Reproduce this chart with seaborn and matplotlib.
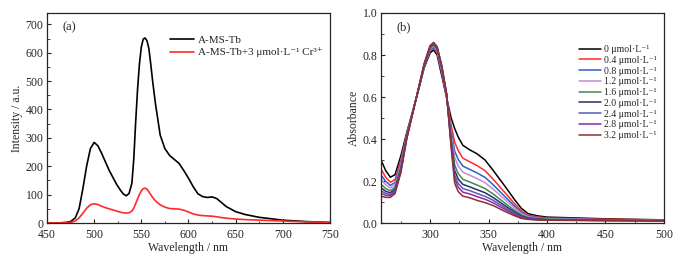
import numpy as np
import pandas as pd
import matplotlib
matplotlib.use('Agg')
import matplotlib.pyplot as plt
import seaborn as sns
from matplotlib.ticker import MultipleLocator, FormatStrFormatter

# ---- panel (a): fluorescence emission ----
wl_a = [450, 460, 470, 475, 480, 484, 488, 492, 496, 500, 504, 508, 512, 516, 520,
        524, 528, 531, 534, 537, 540, 542, 544, 546, 548, 550, 552, 554, 556, 558,
        560, 562, 565, 570, 575, 580, 585, 590, 595, 600, 605, 610, 615, 620, 625,
        630, 635, 640, 650, 660, 675, 700, 725, 750]
tb = [0, 0, 2, 5, 18, 50, 120, 200, 262, 284, 272, 245, 215, 185, 160,
      135, 115, 102, 96, 104, 140, 225, 355, 470, 560, 620, 648, 652, 642, 615,
      560, 500, 420, 310, 262, 238, 224, 210, 185, 158, 128, 103, 93, 90, 92,
      86, 72, 58, 40, 30, 20, 10, 5, 2]
tb_cr = [0, 0, 1, 2, 7, 18, 34, 52, 64, 68, 65, 59, 54, 50, 46,
         42, 38, 36, 35, 36, 42, 52, 68, 85, 100, 113, 121, 123, 119, 110,
         100, 90, 78, 64, 56, 51, 50, 49, 45, 39, 32, 28, 26, 25, 24,
         22, 19, 17, 14, 12, 10, 7, 4, 2]
label_a = ['A-MS-Tb', 'A-MS-Tb+3 μmol·L⁻¹ Cr³⁺']

# ---- panel (b): absorbance titration ----
wl_b = [258, 262, 266, 270, 275, 280, 285, 290, 295, 300, 303, 306, 310, 314, 318,
        321, 324, 328, 334, 340, 347, 354, 360, 366, 372, 378, 384, 392, 400, 450, 500]
conc = ['0', '0.4', '0.8', '1.2', '1.6', '2.0', '2.4', '2.8', '3.2']
abs_0 = [.30, .25, .218, .23, .32, .43, .53, .63, .74, .81, .824, .80, .70, .60, .50,
         .45, .41, .37, .348, .33, .30, .25, .205, .16, .113, .07, .044, .034, .028, .02, .015]
abs_04 = [.257, .218, .194, .207, .30, .422, .527, .633, .745, .819, .833, .81, .713, .605, .465,
          .385, .345, .309, .291, .274, .249, .208, .17, .132, .093, .058, .037, .029, .024, .018, .014]
abs_08 = [.229, .198, .179, .193, .287, .418, .526, .634, .748, .824, .839, .816, .721, .608, .443,
          .343, .303, .271, .255, .239, .217, .182, .148, .115, .081, .05, .033, .026, .022, .016, .013]
abs_12 = [.209, .182, .167, .182, .278, .414, .525, .635, .751, .829, .843, .821, .727, .611, .426,
          .312, .272, .242, .227, .212, .192, .161, .131, .102, .072, .045, .03, .023, .02, .015, .012]
abs_16 = [.185, .164, .154, .17, .266, .41, .523, .637, .753, .833, .848, .827, .734, .613, .406,
          .276, .236, .208, .195, .181, .164, .138, .112, .086, .061, .038, .026, .021, .018, .014, .012]
abs_20 = [.168, .151, .144, .161, .258, .407, .522, .638, .755, .837, .852, .831, .739, .615, .392,
          .25, .21, .184, .172, .159, .144, .121, .098, .075, .053, .033, .023, .019, .016, .013, .011]
abs_24 = [.154, .141, .136, .153, .252, .404, .521, .639, .757, .84, .855, .834, .743, .617, .381,
          .229, .189, .164, .154, .141, .127, .108, .087, .066, .047, .029, .021, .017, .015, .012, .011]
abs_28 = [.142, .132, .13, .147, .246, .402, .521, .639, .758, .842, .857, .837, .746, .618, .371,
          .211, .171, .147, .138, .126, .113, .096, .077, .059, .041, .026, .019, .016, .014, .012, .01]
abs_32 = [.128, .122, .122, .14, .24, .40, .52, .64, .76, .845, .86, .84, .75, .62, .36,
          .19, .15, .128, .12, .108, .097, .083, .066, .05, .035, .022, .017, .014, .013, .011, .01]
colors_b = ['#000000', '#ff2a2a', '#2a62c8', '#c58ad8', '#3f8c50',
            '#2b2b66', '#5a5ab8', '#8a2aa8', '#8b3030']

sns.set_style('ticks')
plt.rcParams['font.family'] = ['Liberation Serif', 'DejaVu Serif']
plt.rcParams['xtick.direction'] = 'in'
plt.rcParams['ytick.direction'] = 'in'

fig = plt.figure(figsize=(6.84, 2.6), dpi=100)
ax1 = fig.add_axes([0.0687, 0.1423, 0.4137, 0.8077])
ax2 = fig.add_axes([0.557, 0.1423, 0.4137, 0.8077])

df_a = pd.DataFrame({'wl': wl_a * 2, 'val': tb + tb_cr,
                     'series': [label_a[0]] * len(wl_a) + [label_a[1]] * len(wl_a)})
sns.lineplot(data=df_a, x='wl', y='val', hue='series', palette=['black', '#ff2a2a'],
             linewidth=1.2, ax=ax1)
ax1.set_xlim(450, 750)
ax1.set_ylim(0, 740)
ax1.xaxis.set_major_locator(MultipleLocator(50))
ax1.xaxis.set_minor_locator(MultipleLocator(25))
ax1.yaxis.set_major_locator(MultipleLocator(100))
ax1.yaxis.set_minor_locator(MultipleLocator(50))
ax1.set_xlabel('Wavelength / nm', fontsize=8.5, labelpad=0.5)
ax1.set_ylabel('Intensity / a.u.', fontsize=8.5, labelpad=2)
ax1.text(0.055, 0.93, '(a)', transform=ax1.transAxes, fontsize=9, va='center')
ax1.legend(frameon=False, fontsize=8, loc='upper right', bbox_to_anchor=(1.0, 0.93),
           handlelength=2.2, handletextpad=0.3, labelspacing=0.2, borderaxespad=0.3)

series_b = [abs_0, abs_04, abs_08, abs_12, abs_16, abs_20, abs_24, abs_28, abs_32]
labels_b = [c + ' μmol·L⁻¹' for c in conc]
df_b = pd.DataFrame({'wl': wl_b * len(conc),
                     'val': sum(series_b, []),
                     'conc': sum([[lab] * len(wl_b) for lab in labels_b], [])})
sns.lineplot(data=df_b, x='wl', y='val', hue='conc', hue_order=labels_b,
             palette=colors_b, linewidth=1.1, ax=ax2)
ax2.set_xlim(258, 500)
ax2.set_ylim(0, 1.0)
ax2.xaxis.set_major_locator(MultipleLocator(50))
ax2.xaxis.set_minor_locator(MultipleLocator(25))
ax2.yaxis.set_major_locator(MultipleLocator(0.2))
ax2.yaxis.set_minor_locator(MultipleLocator(0.1))
ax2.yaxis.set_major_formatter(FormatStrFormatter('%.1f'))
ax2.set_xlabel('Wavelength / nm', fontsize=8.5, labelpad=0.5)
ax2.set_ylabel('Absorbance', fontsize=8.5, labelpad=2)
ax2.text(0.055, 0.93, '(b)', transform=ax2.transAxes, fontsize=9, va='center')
ax2.legend(frameon=False, fontsize=7, loc='upper right', bbox_to_anchor=(1.0, 0.88),
           handlelength=2.3, handletextpad=0.3, labelspacing=0.18, borderaxespad=0.3)

for ax in (ax1, ax2):
    ax.tick_params(which='major', length=3, width=0.8, labelsize=8.5)
    ax.tick_params(axis='x', which='major', pad=4.5)
    ax.tick_params(axis='y', which='major', pad=2.5)
    ax.tick_params(which='minor', length=1.8, width=0.6)
    for s in ax.spines.values():
        s.set_linewidth(0.9)

fig.savefig('out.png', dpi=100)
